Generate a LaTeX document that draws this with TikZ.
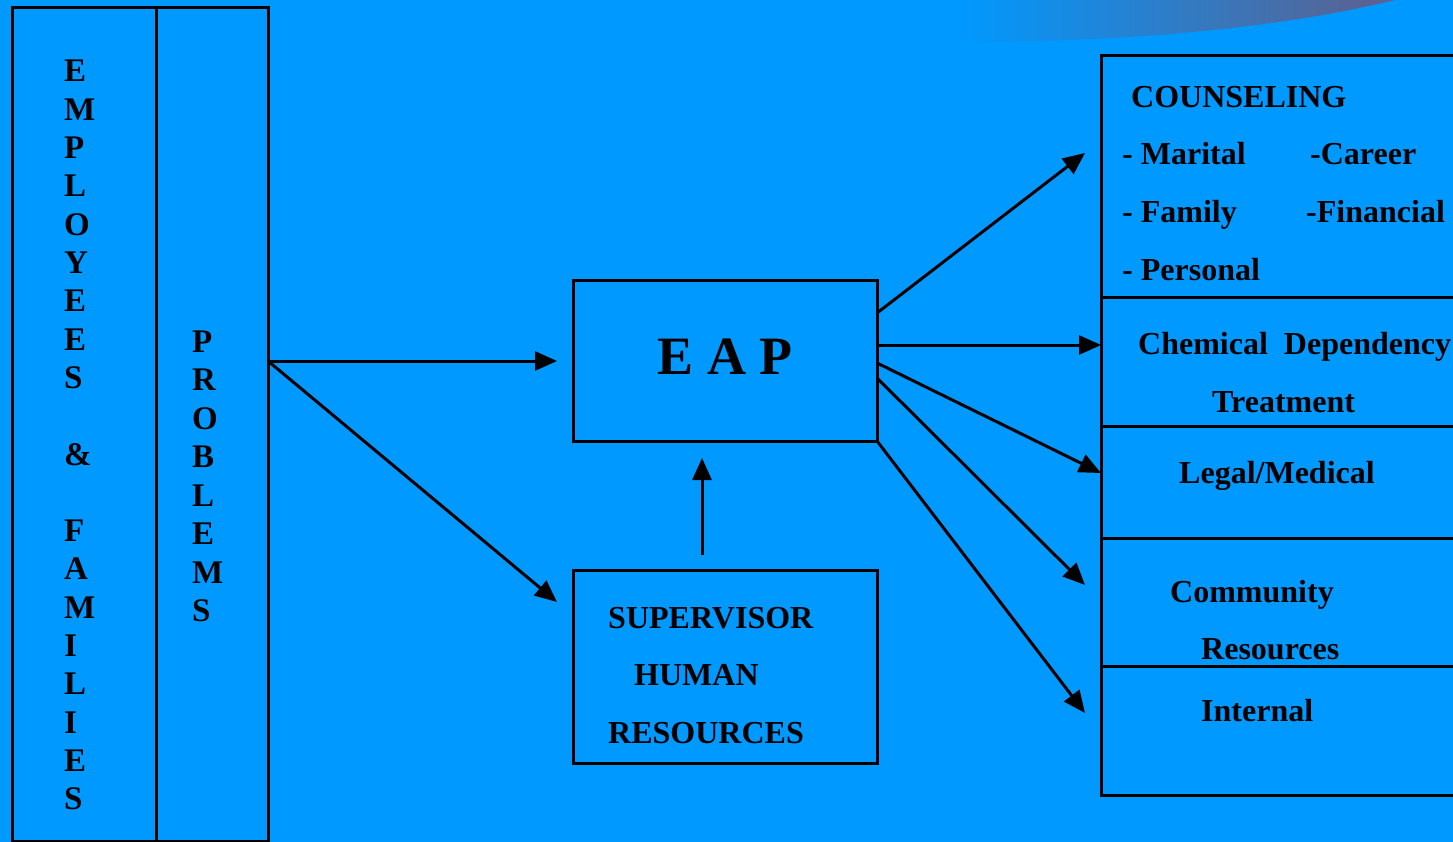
\documentclass[tikz,border=0pt]{standalone}
\usepackage{fontspec}
\setmainfont{Liberation Serif}
\usetikzlibrary{arrows.meta,calc}
\definecolor{bg}{RGB}{0,153,255}
\definecolor{swooshend}{RGB}{95,95,140}
\begin{document}
\begin{tikzpicture}[x=1pt,y=-1pt,
  box/.style={draw=black,line width=3pt,inner sep=0pt,outer sep=0pt},
  arr/.style={line width=3pt,-{Triangle[length=22pt,width=19pt]}},
  lbl/.style={anchor=base west,inner sep=0pt,font=\fontsize{32}{38}\selectfont\bfseries},
  col/.style={anchor=base west,inner sep=0pt,font=\fontsize{33}{38}\selectfont\bfseries}]
\fill[bg] (0,0) rectangle (1453,842);
\useasboundingbox (0,0) rectangle (1453,842);
\shade[left color=bg,right color=swooshend] (960,0) -- (1395,0) .. controls (1280,28) and (1130,42) .. (960,42) -- cycle;

% boxes
\node[box,minimum width=144pt,minimum height=833pt] (emp) at (84,424.5) {};
\node[box,minimum width=112pt,minimum height=833pt] (prob) at (212,424.5) {};
\node[box,minimum width=304pt,minimum height=160pt] (eap) at (725,361) {};
\node[box,minimum width=304pt,minimum height=193pt] (sup) at (725,666.5) {};
\node[box,minimum width=364pt,minimum height=241pt] (coun) at (1283,176.5) {};
\node[box,minimum width=364pt,minimum height=129pt] (chem) at (1283,361.5) {};
\node[box,minimum width=364pt,minimum height=112pt] (legal) at (1283,482) {};
\node[box,minimum width=364pt,minimum height=128pt] (comm) at (1283,602) {};
\node[box,minimum width=364pt,minimum height=129pt] (int) at (1283,730.5) {};

% left column letters
\foreach \ch/\k in {E/0,M/1,P/2,L/3,O/4,Y/5,E/6,E/7,S/8,\&/10,F/12,A/13,M/14,I/15,L/16,I/17,E/18,S/19}
  \node[col] (emp\k) at (64,{82+38.3*\k}) {\ch};
\foreach \ch/\k in {P/0,R/1,O/2,B/3,L/4,E/5,M/6,S/7}
  \node[col] (prob\k) at (192,{352+38.5*\k}) {\ch};

% texts
\node[anchor=base,inner sep=0pt,font=\fontsize{54}{60}\selectfont\bfseries] (eapt) at (725,374) {E A P};
\node[lbl] (s1) at (608,628) {SUPERVISOR};
\node[lbl] (s2) at (634,685) {HUMAN};
\node[lbl] (s3) at (608,743) {RESOURCES};
\node[lbl] (c0) at (1131,108) {COUNSELING};
\node[lbl] (c1) at (1122,165) {- Marital};
\node[lbl] (c2) at (1310,165) {-Career};
\node[lbl] (c3) at (1122,223) {- Family};
\node[lbl] (c4) at (1306,223) {-Financial};
\node[lbl] (c5) at (1122,280) {- Personal};
\node[lbl] (ch1) at (1138,354) {Chemical~ Dependency};
\node[lbl] (ch2) at (1212,412) {Treatment};
\node[lbl] (lg) at (1179,483) {Legal/Medical};
\node[lbl] (cm1) at (1170,602) {Community};
\node[lbl] (cm2) at (1201,659) {Resources};
\node[lbl] (in) at (1201,721) {Internal};

% connectors
\coordinate (fork) at (prob.east |- eap.west);
\draw[arr,shorten >=16pt] (fork) -- (eap.west);
\coordinate (t2) at (557,602);
\draw[arr] (fork) -- (t2);
\draw[arr,shorten <=15pt,shorten >=17pt] ($(sup.north)+(-23,0)$) -- ($(eap.south)+(-23,0)$);

\coordinate (o1) at ($(eap.north east)+(0,32)$);
\coordinate (o2) at ($(eap.east)+(0,-16)$);
\coordinate (o3) at ($(eap.east)+(0,2)$);
\coordinate (o4) at ($(eap.east)+(0,17)$);
\coordinate (t3) at (1085,153);
\coordinate (t5) at ($(legal.west)+(0,-9)$);
\coordinate (t6) at (1085,585);
\coordinate (t7) at (1085,713);
\draw[arr] (o1) -- (t3);
\draw[arr] (o2) -- (chem.west |- o2);
\draw[arr] (o3) -- (t5);
\draw[arr] (o4) -- (t6);
\draw[arr] (eap.south east) -- (t7);
\end{tikzpicture}
\end{document}
